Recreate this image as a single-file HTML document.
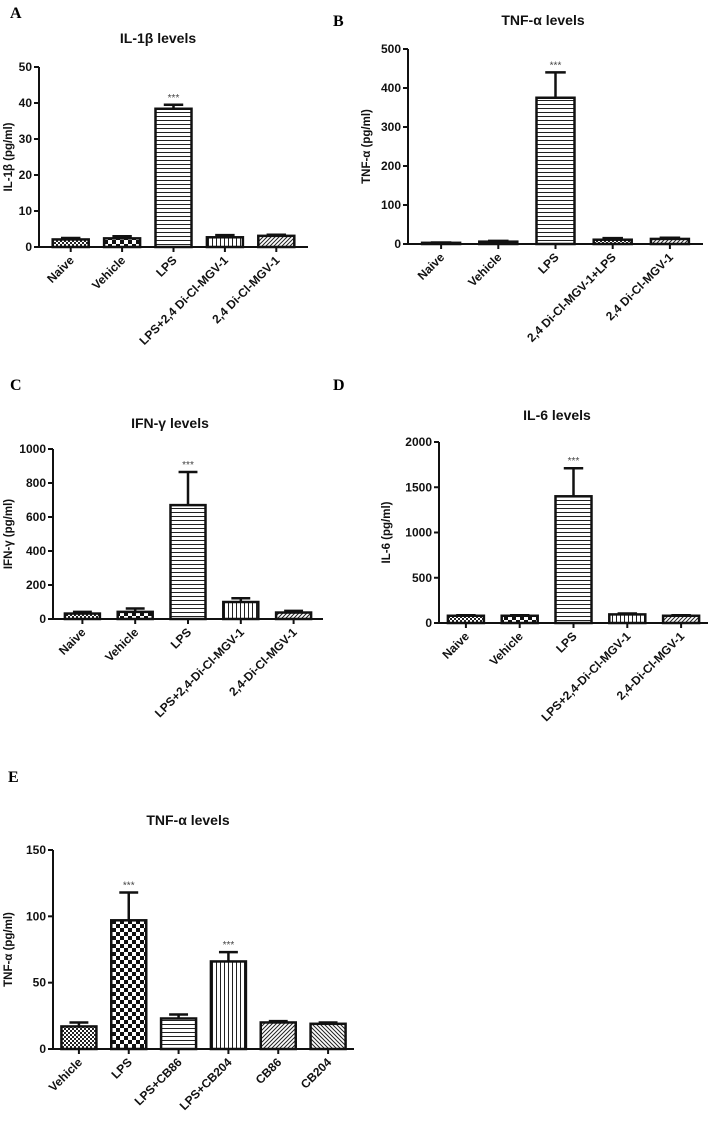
<!DOCTYPE html>
<html><head><meta charset="utf-8">
<style>
html,body{margin:0;padding:0;background:#fff;}
svg{display:block;font-family:"Liberation Sans",Arial,sans-serif;}
.tick{font-size:12px;font-weight:bold;fill:#111;}
.cat{font-size:12px;font-weight:bold;fill:#111;}
.title{font-size:14px;font-weight:bold;fill:#111;}
.ylab{font-size:11.5px;font-weight:bold;fill:#111;}
.plab{font-family:"Liberation Serif",serif;font-size:16px;font-weight:bold;fill:#000;}
.star{font-size:10px;fill:#444;}
</style></head>
<body>
<svg id="fig" width="713" height="1135" viewBox="0 0 713 1135">
<defs>
<pattern id="pSmall" width="4" height="4" patternUnits="userSpaceOnUse"><rect width="4" height="4" fill="#fff"/><rect width="2" height="2" fill="#222"/><rect x="2" y="2" width="2" height="2" fill="#222"/></pattern>
<pattern id="pBig" width="8" height="8" patternUnits="userSpaceOnUse"><rect width="8" height="8" fill="#fff"/><rect width="4" height="4" fill="#111"/><rect x="4" y="4" width="4" height="4" fill="#111"/></pattern>
<pattern id="pH" width="4" height="4" patternUnits="userSpaceOnUse"><rect width="4" height="4" fill="#fff"/><rect y="0" width="4" height="1" fill="#222"/></pattern>
<pattern id="pV" width="4" height="4" patternUnits="userSpaceOnUse"><rect width="4" height="4" fill="#fff"/><rect x="0" width="1" height="4" fill="#222"/></pattern>
<pattern id="pD1" width="4" height="4" patternUnits="userSpaceOnUse"><rect width="4" height="4" fill="#fff"/><path d="M-1,1 L1,-1 M0,4 L4,0 M3,5 L5,3" stroke="#222" stroke-width="1"/></pattern>
<pattern id="pD2" width="4" height="4" patternUnits="userSpaceOnUse"><rect width="4" height="4" fill="#fff"/><path d="M-1,3 L1,5 M0,0 L4,4 M3,-1 L5,1" stroke="#222" stroke-width="1"/></pattern>
</defs>
<text class="plab" x="10" y="18">A</text>
<text class="plab" x="333" y="26">B</text>
<text class="plab" x="10" y="390">C</text>
<text class="plab" x="333" y="390">D</text>
<text class="plab" x="8" y="782">E</text>
</svg>
<script>
const catsA=["Naive","Vehicle","LPS","LPS+2,4 Di-Cl-MGV-1","2,4 Di-Cl-MGV-1"];
const valsA=[2.1,2.4,38.4,2.7,3.1];
const errA=[2.5,3.0,39.5,3.3,3.4];
const ticksA=[0,10,20,30,40,50];
const starsA=[0,0,1,0,0];

const catsB=["Naive","Vehicle","LPS","2,4 Di-Cl-MGV-1+LPS","2,4 Di-Cl-MGV-1"];
const valsB=[3,6,375,11,13];
const errB=[4,8,440,15,16];
const ticksB=[0,100,200,300,400,500];
const starsB=[0,0,1,0,0];

const catsC=["Naive","Vehicle","LPS","LPS+2,4-Di-Cl-MGV-1","2,4-Di-Cl-MGV-1"];
const valsC=[32,42,670,100,38];
const errC=[42,62,865,122,48];
const ticksC=[0,200,400,600,800,1000];
const starsC=[0,0,1,0,0];

const catsD=["Naive","Vehicle","LPS","LPS+2,4-Di-Cl-MGV-1","2,4-Di-Cl-MGV-1"];
const valsD=[80,80,1400,95,80];
const errD=[85,85,1710,105,85];
const ticksD=[0,500,1000,1500,2000];
const starsD=[0,0,1,0,0];

const catsE=["Vehicle","LPS","LPS+CB86","LPS+CB204","CB86","CB204"];
const valsE=[17,97,23,66,20,19];
const errE=[20,118,26,73,21,20];
const ticksE=[0,50,100,150];
const starsE=[0,1,0,1,0,0];

const NS="http://www.w3.org/2000/svg";
const svg=document.getElementById('fig');
function mk(tag,attrs,parent,txt){const e=document.createElementNS(NS,tag);for(const k in attrs)e.setAttribute(k,attrs[k]);if(txt!==undefined)e.textContent=txt;(parent||svg).appendChild(e);return e;}

function panel(id,cfg,cats,vals,errs,ticks,stars){
  const g=mk('g',{});
  
  
  const ymax=ticks[ticks.length-1];
  const yS=v=>cfg.y0-(v/ymax)*(cfg.y0-cfg.yTop);
  const n=cats.length;
  const step=(cfg.xEnd-cfg.x0-cfg.pad)/n;
  const xC=i=>cfg.x0+cfg.pad/2+step*(i+0.5);
  const t=mk('text',{class:'title',x:cfg.tx,y:cfg.ty,'text-anchor':'middle'},g,cfg.title);
  
  
  const yl=mk('text',{class:'ylab','text-anchor':'middle',transform:`translate(${cfg.ylx},${(cfg.y0+cfg.yTop)/2}) rotate(-90)`},g,cfg.ylab);
  
  
  ticks.forEach(tv=>{
    const y=yS(tv);
    mk('line',{x1:cfg.x0-5,x2:cfg.x0,y1:y,y2:y,stroke:'#111','stroke-width':2},g);
    const tl=mk('text',{class:'tick',x:cfg.x0-7,y:y+4,'text-anchor':'end'},g,String(tv));
    
    
  });
  const bw=cfg.bw;
  cats.forEach((c,i)=>{
    const cx=xC(i);
    const top=yS(vals[i]), et=yS(errs[i]);
    mk('line',{x1:cx,x2:cx,y1:et,y2:top,stroke:'#111','stroke-width':2.5},g);
    mk('line',{x1:cx-bw*0.27,x2:cx+bw*0.27,y1:et,y2:et,stroke:'#111','stroke-width':2.5},g);
    const b=mk('rect',{x:cx-bw/2,y:top,width:bw,height:cfg.y0-top,fill:`url(#${cfg.pats[i]})`,stroke:'#111','stroke-width':2.5},g);
    
    
    if(stars[i]){
      const s=mk('text',{class:'star',x:cx,y:et-4,'text-anchor':'middle'},g,'***');
      
      
    }
    mk('line',{x1:cx,x2:cx,y1:cfg.y0,y2:cfg.y0+5,stroke:'#111','stroke-width':2},g);
    const cl=mk('text',{class:'cat','text-anchor':'end',transform:`translate(${cx+4},${cfg.y0+14}) rotate(-45)`},g,c);
    
    
  });
  const ya=mk('line',{x1:cfg.x0,x2:cfg.x0,y1:cfg.yTop,y2:cfg.y0+1,stroke:'#111','stroke-width':2},g);
  
  
  const xa=mk('line',{x1:cfg.x0,x2:cfg.xEnd,y1:cfg.y0,y2:cfg.y0,stroke:'#111','stroke-width':2},g);
  
  
}
const P5=['pSmall','pBig','pH','pV','pD1'];
panel('panel-a',{x0:39,xEnd:308,yTop:67,y0:247,pad:12,bw:36,tx:158,ty:43,title:'IL-1β levels',ylx:12,ylab:'IL-1β (pg/ml)',pats:P5},catsA,valsA,errA,ticksA,starsA);
panel('panel-b',{x0:408,xEnd:703,yTop:49,y0:244,pad:9,bw:38,tx:543,ty:25,title:'TNF-α levels',ylx:370,ylab:'TNF-α (pg/ml)',pats:['pSmall','pBig','pH','pSmall','pD1']},catsB,valsB,errB,ticksB,starsB);
panel('panel-c',{x0:53,xEnd:323,yTop:449,y0:619,pad:6,bw:35,tx:170,ty:428,title:'IFN-γ levels',ylx:12,ylab:'IFN-γ (pg/ml)',pats:P5},catsC,valsC,errC,ticksC,starsC);
panel('panel-d',{x0:439,xEnd:708,yTop:442,y0:623,pad:0,bw:36,tx:557,ty:420,title:'IL-6 levels',ylx:390,ylab:'IL-6 (pg/ml)',pats:P5},catsD,valsD,errD,ticksD,starsD);
panel('panel-e',{x0:53,xEnd:354,yTop:850,y0:1049,pad:2,bw:35,tx:188,ty:825,title:'TNF-α levels',ylx:12,ylab:'TNF-α (pg/ml)',pats:['pSmall','pBig','pH','pV','pD1','pD2']},catsE,valsE,errE,ticksE,starsE);
</script>
</body></html>
